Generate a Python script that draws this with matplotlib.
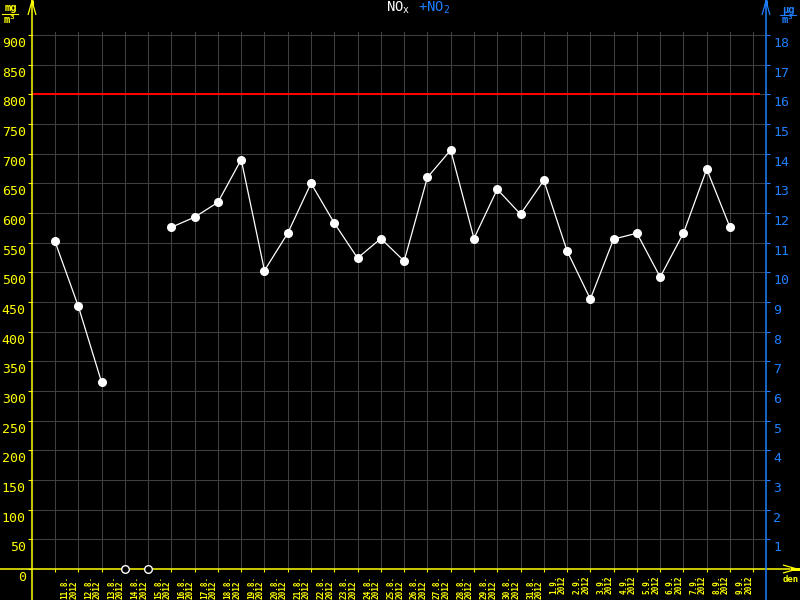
import numpy as np
import matplotlib
matplotlib.use("Agg")
import matplotlib.pyplot as plt
from matplotlib.transforms import ScaledTranslation

# ---- data ----
dates = ["11.8.", "12.8.", "13.8.", "14.8.", "15.8.", "16.8.", "17.8.", "18.8.", "19.8.", "20.8.",
         "21.8.", "22.8.", "23.8.", "24.8.", "25.8.", "26.8.", "27.8.", "28.8.", "29.8.", "30.8.",
         "31.8.", "1.9.", "2.9.", "3.9.", "4.9.", "5.9.", "6.9.", "7.9.", "8.9.", "9.9."]
year = "2012"
nox = [552, 443, 315, np.nan, np.nan, 576, 593, 618, 690, 503,
       566, 650, 583, 524, 557, 519, 660, 706, 557, 640,
       598, 655, 536, 455, 556, 566, 492, 566, 674, 576]
limit_nox = 800
left_ticks = list(range(0, 901, 50))
right_ticks = list(range(1, 19))

YEL = "#ffff00"
BLUE = "#1e7fff"
GRID = "#404040"
MONO = "DejaVu Sans Mono"

W, H = 800, 600
fig = plt.figure(figsize=(8, 6), dpi=100, facecolor="black")
L, R, T, B = 32, 766, 32, 569
ax = fig.add_axes([L / W, 1 - B / H, (R - L) / W, (B - T) / H])
ax.set_facecolor("black")
pxu = 534 / 900.0
ymax = (B - T) / pxu
sp = (730 - 55) / 29.0
ax.set_ylim(0, ymax)
ax.set_xlim((L - 55) / sp, (R - 55) / sp)

for s in ax.spines.values():
    s.set_visible(False)

n = len(dates)
x = np.arange(n)
y = np.array(nox, dtype=float)

# grid
ax.set_xticks(np.arange(n + 1))
ax.set_xticklabels([d + "\n" + year for d in dates] + [""])
ax.set_yticks(left_ticks)
ax.set_yticklabels([str(v) for v in left_ticks])
ax.grid(True, color=GRID, lw=0.75)
ax.set_axisbelow(True)

ax.tick_params(axis="y", direction="out", length=3, width=0.8, color=YEL,
               labelcolor=YEL, labelsize=9.5, pad=1.5)
ax.tick_params(axis="x", direction="out", length=2.2, width=0.8, color=YEL,
               labelcolor=YEL, labelsize=5.6, pad=2.5)
for lab in ax.get_yticklabels():
    lab.set_fontfamily(MONO)
    lab.set_transform(lab.get_transform() + ScaledTranslation(0, -0.07, fig.dpi_scale_trans))
for lab in ax.get_xticklabels():
    lab.set_fontfamily(MONO)
    lab.set_fontweight("bold")
    lab.set_rotation(90)
    lab.set_ha("center")
    lab.set_va("top")
    lab.set_multialignment("left")
    lab.set_linespacing(0.95)
    lab.set_transform(lab.get_transform() + ScaledTranslation(0.145, 0, fig.dpi_scale_trans))

# right axis
ax2 = ax.twinx()
ax2.set_ylim(0, ymax / 50.0)
for s in ax2.spines.values():
    s.set_visible(False)
ax2.set_yticks(right_ticks)
ax2.set_yticklabels([str(v) for v in right_ticks])
ax2.tick_params(axis="y", direction="out", length=3, width=0.8, color=BLUE,
                labelcolor=BLUE, labelsize=9.5, pad=2)
for lab in ax2.get_yticklabels():
    lab.set_fontfamily(MONO)
    lab.set_transform(lab.get_transform() + ScaledTranslation(0, -0.07, fig.dpi_scale_trans))

# limit line
ax.axhline(limit_nox, xmin=0, xmax=(759 - L) / (R - L), color="#ff0000", lw=1.5, zorder=3)

# data line
ax.plot(x, y, color="white", lw=0.9, marker="o", ms=5.5, mfc="white", mec="white", zorder=4)

# axis lines in pixel coords
def P(px, py):
    return ((px - L) / (R - L), (B - py) / (B - T))

def pline(pts, color, lw=1.1, z=5):
    xs, ys = zip(*[P(a, b) for a, b in pts])
    ax.plot(xs, ys, color=color, lw=lw, transform=ax.transAxes, clip_on=False,
            zorder=z, solid_capstyle="butt")

pline([(0, B), (790, B)], YEL)
pline([(L, 0), (L, 600)], YEL)
pline([(R, 0), (R, 600)], BLUE)
# arrows
pline([(28, 15), (32, 1), (36, 15)], YEL, lw=0.9)
pline([(L, 0), (L, 5)], YEL, lw=2.2)
pline([(R - 4, 15), (R, 1), (R + 4, 15)], BLUE, lw=0.9)
pline([(R, 0), (R, 5)], BLUE, lw=2.2)
pline([(783, 565), (797, B), (783, 573)], YEL, lw=0.9)
pline([(790, B), (800, B)], YEL, lw=2.2)

# missing values shown as hollow markers at zero
miss = np.isnan(y)
ax.plot(x[miss], np.zeros(miss.sum()), ls="none", marker="o", ms=5.5, mfc="black",
        mec="white", mew=1.0, clip_on=False, zorder=6)

# texts
def ft(px, py, s, **kw):
    fig.text(px / W, 1 - py / H, s, **kw)

ft(398, 8, "NO$_\\mathregular{x}$", color="white", fontsize=10, family=MONO, ha="center", va="center")
ft(434, 8, "+NO$_\\mathregular{2}$", color=BLUE, fontsize=10, family=MONO, ha="center", va="center")

ft(11, 8, "mg", color=YEL, fontsize=7.5, family=MONO, fontweight="bold", ha="center", va="center")
ft(10, 20, "m³", color=YEL, fontsize=7.5, family=MONO, fontweight="bold", ha="center", va="center")
fig.add_artist(plt.Line2D([2 / W, 18 / W], [1 - 13.5 / H] * 2, color=YEL, lw=0.8))

ft(788, 10, "µg", color=BLUE, fontsize=7.5, family=MONO, fontweight="bold", ha="center", va="center")
ft(788, 20, "m³", color=BLUE, fontsize=7.5, family=MONO, fontweight="bold", ha="center", va="center")
fig.add_artist(plt.Line2D([780 / W, 796 / W], [1 - 14.5 / H] * 2, color=BLUE, lw=0.8))

ft(791, 580, "den", color=YEL, fontsize=6.5, family=MONO, fontweight="bold", ha="center", va="center")

fig.savefig("out.png", dpi=100, facecolor="black")
